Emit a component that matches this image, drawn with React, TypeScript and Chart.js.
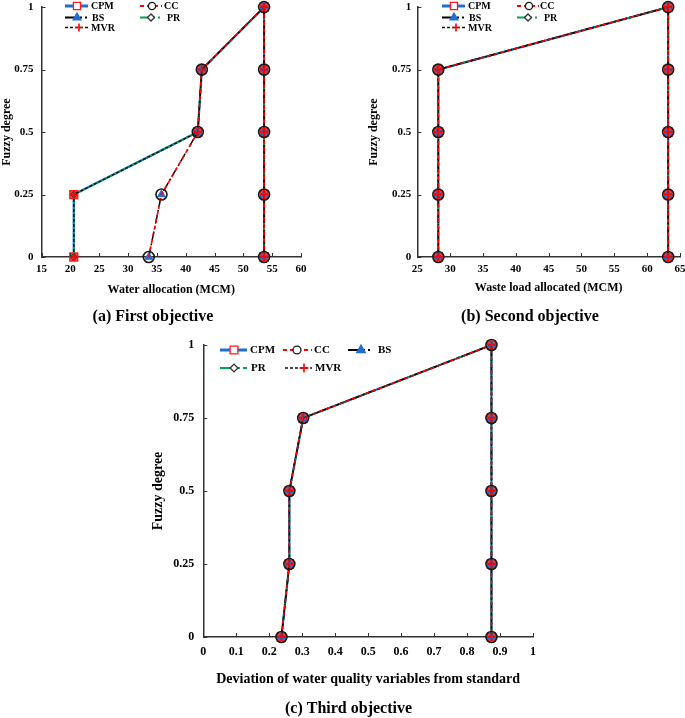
import React, { useEffect, useRef } from 'react';
import { Chart, registerables } from 'chart.js';

Chart.register(...registerables);

const FONT = '"Liberation Serif", "Times New Roman", serif';

// ---------------- data ----------------
const seriesNames = ['CPM', 'CC', 'BS', 'PR', 'MVR'];
const fuzzyDegree = [0, 0.25, 0.5, 0.75, 1, 0.75, 0.5, 0.25, 0];
const yTickLabels = ['0', '0.25', '0.5', '0.75', '1'];

// (a) First objective: water allocation (MCM)
const waterCPM = [20.6, 20.6, 42.1, 42.8, 53.6, 53.6, 53.6, 53.6, 53.6];
const waterCC = [33.6, 35.8, 42.1, 42.8, 53.6, 53.6, 53.6, 53.6, 53.6];
const waterBS = [33.6, 35.8, 42.1, 42.8, 53.6, 53.6, 53.6, 53.6, 53.6];
const waterPR = [20.6, 20.6, 42.1, 42.8, 53.6, 53.6, 53.6, 53.6, 53.6];
const waterMVR = [20.6, 20.6, 42.1, 42.8, 53.6, 53.6, 53.6, 53.6, 53.6];
const waterTicks = ['15', '20', '25', '30', '35', '40', '45', '50', '55', '60'];

// (b) Second objective: waste load allocated (MCM)
const wasteCPM = [28.2, 28.2, 28.2, 28.2, 63.2, 63.2, 63.2, 63.2, 63.2];
const wasteCC = [28.2, 28.2, 28.2, 28.2, 63.2, 63.2, 63.2, 63.2, 63.2];
const wasteBS = [28.2, 28.2, 28.2, 28.2, 63.2, 63.2, 63.2, 63.2, 63.2];
const wastePR = [28.2, 28.2, 28.2, 28.2, 63.2, 63.2, 63.2, 63.2, 63.2];
const wasteMVR = [28.2, 28.2, 28.2, 28.2, 63.2, 63.2, 63.2, 63.2, 63.2];
const wasteTicks = ['25', '30', '35', '40', '45', '50', '55', '60', '65'];

// (c) Third objective: deviation of water quality variables from standard
const devCPM = [0.237, 0.261, 0.261, 0.303, 0.874, 0.874, 0.874, 0.874, 0.874];
const devCC = [0.237, 0.261, 0.261, 0.303, 0.874, 0.874, 0.874, 0.874, 0.874];
const devBS = [0.237, 0.261, 0.261, 0.303, 0.874, 0.874, 0.874, 0.874, 0.874];
const devPR = [0.237, 0.261, 0.261, 0.303, 0.874, 0.874, 0.874, 0.874, 0.874];
const devMVR = [0.237, 0.261, 0.261, 0.303, 0.874, 0.874, 0.874, 0.874, 0.874];
const devTicks = ['0', '0.1', '0.2', '0.3', '0.4', '0.5', '0.6', '0.7', '0.8', '0.9', '1'];

// ---------------- styles ----------------
type Style = {
  line: string; width: number; dash: number[]; legendDash: number[]; legendWidth: number;
  point: string; pr: number; pbw: number; pStroke: string; pFill: string; legendFill: string; legendR: number; order: number;
};
const STYLES: Record<string, Style> = {
  CPM: { line: '#1f6fd1', width: 2.2, dash: [], legendDash: [], legendWidth: 3, point: 'rect', pr: 5.5, pbw: 1.5, pStroke: '#ff1a1a', pFill: 'rgba(240,30,30,0.8)', legendFill: '#ffffff', legendR: 5, order: 5 },
  CC: { line: '#ff0000', width: 1.6, dash: [4, 3], legendDash: [4, 3], legendWidth: 2, point: 'circle', pr: 5.5, pbw: 1.6, pStroke: '#1a1a1a', pFill: 'rgba(255,255,255,0)', legendFill: '#ffffff', legendR: 3.6, order: 1 },
  BS: { line: '#000000', width: 1.5, dash: [9, 3, 2, 3], legendDash: [12, 3, 2, 3, 2, 3], legendWidth: 2, point: 'triangle', pr: 4.5, pbw: 1, pStroke: '#1f6fd1', pFill: '#1f6fd1', legendFill: '#1f6fd1', legendR: 4.5, order: 3 },
  PR: { line: '#00a651', width: 1.8, dash: [10, 2, 2, 2], legendDash: [10, 3, 2, 3, 2, 3], legendWidth: 2, point: 'rectRot', pr: 3.5, pbw: 1, pStroke: '#333333', pFill: 'rgba(255,255,255,0)', legendFill: '#ffffff', legendR: 3.5, order: 4 },
  MVR: { line: '#111111', width: 1.4, dash: [3, 2], legendDash: [3, 2], legendWidth: 1.6, point: 'cross', pr: 4, pbw: 1.6, pStroke: '#ff0000', pFill: '#ff0000', legendFill: '#ff0000', legendR: 4, order: 2 },
};

function makeDataset(name: string, xs: number[]) {
  const s = STYLES[name];
  return {
    label: name,
    data: xs.map((x, i) => ({ x, y: fuzzyDegree[i] })),
    showLine: true,
    borderColor: s.line,
    borderWidth: s.width,
    borderDash: s.dash,
    pointStyle: s.point,
    pointRadius: s.pr,
    pointBorderWidth: s.pbw,
    pointBorderColor: s.pStroke,
    pointBackgroundColor: s.pFill,
    fill: false,
    tension: 0,
    clip: false,
    order: s.order,
  };
}

function drawMarker(ctx: CanvasRenderingContext2D, kind: string, x: number, y: number, r: number) {
  ctx.beginPath();
  if (kind === 'circle') {
    ctx.arc(x, y, r, 0, Math.PI * 2);
  } else if (kind === 'rect') {
    const s = r * Math.SQRT1_2;
    ctx.rect(x - s, y - s, 2 * s, 2 * s);
  } else if (kind === 'triangle') {
    ctx.moveTo(x, y - r);
    ctx.lineTo(x + 0.866 * r, y + 0.5 * r);
    ctx.lineTo(x - 0.866 * r, y + 0.5 * r);
    ctx.closePath();
  } else if (kind === 'rectRot') {
    ctx.moveTo(x - r, y);
    ctx.lineTo(x, y - r);
    ctx.lineTo(x + r, y);
    ctx.lineTo(x, y + r);
    ctx.closePath();
  } else if (kind === 'cross') {
    ctx.moveTo(x - r, y);
    ctx.lineTo(x + r, y);
    ctx.moveTo(x, y - r);
    ctx.lineTo(x, y + r);
    ctx.stroke();
    return;
  }
  ctx.fill();
  ctx.stroke();
}

const insideTicks = {
  id: 'insideTicks',
  afterDatasetsDraw(chart: any) {
    const { ctx, chartArea, scales } = chart;
    const x = scales.x;
    const y = scales.y;
    ctx.save();
    ctx.strokeStyle = '#333333';
    ctx.lineWidth = 1;
    ctx.setLineDash([]);
    x.ticks.forEach((t: any) => {
      const px = Math.round(x.getPixelForValue(t.value)) + 0.5;
      ctx.beginPath();
      ctx.moveTo(px, chartArea.bottom);
      ctx.lineTo(px, chartArea.bottom - 4);
      ctx.stroke();
    });
    y.ticks.forEach((t: any) => {
      const py = Math.round(y.getPixelForValue(t.value)) + 0.5;
      ctx.beginPath();
      ctx.moveTo(chartArea.left, py);
      ctx.lineTo(chartArea.left + 4, py);
      ctx.stroke();
    });
    ctx.restore();
  },
};

const fuzzyLegend = {
  id: 'fuzzyLegend',
  afterDraw(chart: any, _args: any, opts: any) {
    const { ctx } = chart;
    ctx.save();
    (opts.items || []).forEach((it: any) => {
      const s = STYLES[it.name];
      ctx.setLineDash(s.legendDash);
      ctx.strokeStyle = s.line;
      ctx.lineWidth = s.legendWidth;
      ctx.beginPath();
      ctx.moveTo(it.sx, it.y);
      ctx.lineTo(it.ex, it.y);
      ctx.stroke();
      ctx.setLineDash([]);
      ctx.strokeStyle = s.pStroke;
      ctx.fillStyle = s.legendFill;
      ctx.lineWidth = s.point === 'cross' ? 1.6 : 1.3;
      drawMarker(ctx, s.point, it.mx, it.y, s.legendR * (opts.scale || 1));
      ctx.fillStyle = '#000000';
      ctx.font = `bold ${opts.fontSize}px ${FONT}`;
      ctx.textAlign = 'left';
      ctx.textBaseline = 'middle';
      ctx.fillText(it.name, it.tx, it.y + 0.5);
    });
    ctx.restore();
  },
};

const caption = {
  id: 'caption',
  afterDraw(chart: any, _args: any, opts: any) {
    const { ctx } = chart;
    ctx.save();
    ctx.fillStyle = '#000000';
    ctx.font = `bold ${opts.size}px ${FONT}`;
    ctx.textAlign = 'center';
    ctx.textBaseline = 'middle';
    ctx.fillText(opts.text, opts.x, opts.y);
    ctx.restore();
  },
};

type Spec = {
  left: number; top: number; w: number; h: number;
  series: number[][]; xMin: number; xMax: number; xStep: number; xTicks: string[];
  xTitle: string; caption: string; capX: number; capY: number;
  pad: { left: number; top: number; right: number; bottom: number };
  hx: number; wy: number; tickFont: number; titleFont: number;
  xTickPad: number; yTickPad: number; xTitlePad: number; yTitlePad: number;
  legend: any[]; legendFont: number; legendScale: number;
};

function buildConfig(spec: Spec): any {
  return {
    type: 'scatter',
    data: { datasets: seriesNames.map((n, i) => makeDataset(n, spec.series[i])) },
    options: {
      responsive: false,
      animation: false,
      devicePixelRatio: 1,
      events: [],
      layout: { padding: spec.pad },
      plugins: {
        legend: { display: false },
        tooltip: { enabled: false },
        title: { display: false },
        fuzzyLegend: { items: spec.legend, fontSize: spec.legendFont, scale: spec.legendScale },
        caption: { text: spec.caption, x: spec.capX, y: spec.capY, size: 16 },
      },
      scales: {
        x: {
          type: 'linear',
          min: spec.xMin,
          max: spec.xMax,
          ticks: {
            stepSize: spec.xStep,
            autoSkip: false,
            maxRotation: 0,
            padding: spec.xTickPad,
            color: '#000000',
            font: { family: FONT, weight: 'bold', size: spec.tickFont },
            callback: (_v: any, i: number) => spec.xTicks[i],
          },
          grid: { display: false, drawTicks: false },
          border: { display: true, color: '#333333', width: 1.5 },
          title: {
            display: true,
            text: spec.xTitle,
            color: '#000000',
            font: { family: FONT, weight: 'bold', size: spec.titleFont },
            padding: { top: 0, bottom: spec.xTitlePad },
          },
          afterFit: (s: any) => {
            s.height = spec.hx;
            s.paddingLeft = 0;
            s.paddingRight = 0;
          },
        },
        y: {
          type: 'linear',
          min: 0,
          max: 1,
          ticks: {
            stepSize: 0.25,
            padding: spec.yTickPad,
            color: '#000000',
            font: { family: FONT, weight: 'bold', size: spec.tickFont },
            callback: (_v: any, i: number) => yTickLabels[i],
          },
          grid: { display: false, drawTicks: false },
          border: { display: true, color: '#333333', width: 1.5 },
          title: {
            display: true,
            text: 'Fuzzy degree',
            color: '#000000',
            font: { family: FONT, weight: 'bold', size: spec.titleFont },
            padding: { top: spec.yTitlePad, bottom: 0 },
          },
          afterFit: (s: any) => {
            s.width = spec.wy;
            s.paddingTop = 0;
            s.paddingBottom = 0;
          },
        },
      },
    },
    plugins: [insideTicks, fuzzyLegend, caption],
  };
}

const specA: Spec = {
  left: 0, top: 0, w: 340, h: 335,
  series: [waterCPM, waterCC, waterBS, waterPR, waterMVR],
  xMin: 15, xMax: 60, xStep: 5, xTicks: waterTicks,
  xTitle: 'Water allocation (MCM)', caption: '(a) First objective', capX: 153, capY: 317,
  pad: { left: 0, top: 5, right: 39, bottom: 36 },
  hx: 42, wy: 41.5, tickFont: 11, titleFont: 12, xTickPad: 6, yTickPad: 8, xTitlePad: 2, yTitlePad: 0,
  legendFont: 10, legendScale: 1,
  legend: [
    { name: 'CPM', sx: 65, ex: 88, mx: 77, tx: 91, y: 6 },
    { name: 'CC', sx: 140, ex: 162, mx: 152, tx: 164, y: 6 },
    { name: 'BS', sx: 65, ex: 88, mx: 77, tx: 92, y: 17.5 },
    { name: 'PR', sx: 140, ex: 162, mx: 151, tx: 167, y: 17.5 },
    { name: 'MVR', sx: 65, ex: 88, mx: 79, tx: 91, y: 27.5 },
  ],
};

const specB: Spec = {
  left: 367, top: 0, w: 330, h: 335,
  series: [wasteCPM, wasteCC, wasteBS, wastePR, wasteMVR],
  xMin: 25, xMax: 65, xStep: 5, xTicks: wasteTicks,
  xTitle: 'Waste load allocated (MCM)', caption: '(b) Second objective', capX: 163, capY: 317,
  pad: { left: 0, top: 5, right: 17, bottom: 36 },
  hx: 42, wy: 50.3, tickFont: 11, titleFont: 12, xTickPad: 6, yTickPad: 6, xTitlePad: 4, yTitlePad: 0,
  legendFont: 10, legendScale: 1,
  legend: [
    { name: 'CPM', sx: 75, ex: 98, mx: 87, tx: 101, y: 6 },
    { name: 'CC', sx: 150, ex: 172, mx: 162, tx: 173, y: 6 },
    { name: 'BS', sx: 75, ex: 98, mx: 87, tx: 102, y: 17.5 },
    { name: 'PR', sx: 150, ex: 172, mx: 161, tx: 177, y: 17.5 },
    { name: 'MVR', sx: 75, ex: 98, mx: 89, tx: 101, y: 27.5 },
  ],
};

const specC: Spec = {
  left: 150, top: 335, w: 430, h: 383,
  series: [devCPM, devCC, devBS, devPR, devMVR],
  xMin: 0, xMax: 1, xStep: 0.1, xTicks: devTicks,
  xTitle: 'Deviation of water quality variables from standard', caption: '(c) Third objective', capX: 198.5, capY: 374,
  pad: { left: 0, top: 10, right: 47, bottom: 30 },
  hx: 51, wy: 53.3, tickFont: 12, titleFont: 14, xTickPad: 8, yTickPad: 9, xTitlePad: 0, yTitlePad: 0,
  legendFont: 11, legendScale: 1.1,
  legend: [
    { name: 'CPM', sx: 70, ex: 97, mx: 84, tx: 100, y: 15 },
    { name: 'CC', sx: 133, ex: 162, mx: 147, tx: 164, y: 15 },
    { name: 'BS', sx: 198, ex: 222, mx: 211, tx: 228, y: 15 },
    { name: 'PR', sx: 70, ex: 97, mx: 84, tx: 101, y: 33 },
    { name: 'MVR', sx: 135, ex: 162, mx: 154, tx: 165, y: 33 },
  ],
};

function FuzzyChart({ spec }: { spec: Spec }) {
  const ref = useRef<HTMLCanvasElement>(null);
  useEffect(() => {
    const chart = new Chart(ref.current as HTMLCanvasElement, buildConfig(spec));
    return () => chart.destroy();
  }, [spec]);
  return (
    <canvas
      ref={ref}
      width={spec.w}
      height={spec.h}
      style={{ position: 'absolute', left: spec.left, top: spec.top, width: spec.w, height: spec.h }}
    />
  );
}

export default function App() {
  return (
    <div style={{ position: 'absolute', left: 0, top: 0, width: 685, height: 718, overflow: 'hidden', background: '#ffffff' }}>
      <FuzzyChart spec={specA} />
      <FuzzyChart spec={specB} />
      <FuzzyChart spec={specC} />
    </div>
  );
}
